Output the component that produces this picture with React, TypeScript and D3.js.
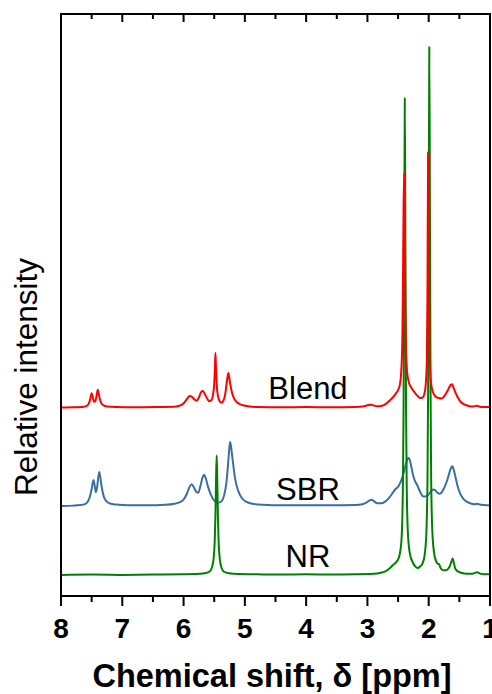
import React from "react";
import * as d3 from "d3";

// ---- data ----
const tickValues = [8, 7, 6, 5, 4, 3, 2, 1];
const minorTickValues = [7.5, 6.5, 5.5, 4.5, 3.5, 2.5, 1.5];
const seriesNames = ["NR", "SBR", "Blend"];
const seriesOffsets = [0, 13.07, 31.7];

const nrSpectrum: [number, number][] = [
  [8.0, 0], [7.5, 0.05], [7.0, 0], [6.5, 0.05], [6.0, 0.1], [5.8, 0.15], [5.66, 0.3], [5.58, 0.6], [5.54, 1.3],
  [5.51, 3.1], [5.49, 7], [5.48, 11.3], [5.47, 18], [5.46, 22.6], [5.45, 18], [5.44, 11.3], [5.43, 7], [5.41, 3.1],
  [5.38, 1.3], [5.34, 0.6], [5.26, 0.3], [5.1, 0.15], [4.8, 0.1], [4.4, 0.05], [4.0, 0.1], [3.6, 0.05], [3.2, 0.1],
  [2.9, 0.2], [2.78, 0.4], [2.7, 0.7], [2.64, 1.2], [2.58, 1.9], [2.53, 2.4], [2.49, 3.2], [2.46, 4.8], [2.44, 7.5],
  [2.42, 18], [2.41, 32], [2.4, 62], [2.39, 90.3], [2.38, 62], [2.37, 32], [2.36, 18], [2.34, 8], [2.31, 4.2],
  [2.27, 2.6], [2.22, 1.6], [2.18, 1.3], [2.14, 1.6], [2.1, 2.2], [2.07, 3.5], [2.04, 7.5], [2.02, 18], [2.01, 35],
  [2.0, 68], [1.99, 100], [1.98, 68], [1.97, 35], [1.96, 18], [1.94, 8], [1.91, 4], [1.88, 2.6], [1.85, 2.1],
  [1.83, 2.0], [1.81, 1.4], [1.77, 0.9], [1.72, 0.9], [1.68, 1.2], [1.65, 1.8], [1.63, 2.5], [1.61, 3.1],
  [1.59, 2.3], [1.57, 1.3], [1.53, 0.7], [1.47, 0.4], [1.38, 0.2], [1.3, 0.2], [1.25, 0.35], [1.21, 0.5],
  [1.18, 0.35], [1.13, 0.15], [1.05, 0.1], [1.0, 0.1],
];

const sbrSpectrum: [number, number][] = [
  [8.0, 0], [7.8, 0.05], [7.68, 0.15], [7.6, 0.4], [7.56, 0.9], [7.53, 1.7], [7.5, 3.2], [7.47, 4.9], [7.45, 3.8],
  [7.43, 2.6], [7.41, 3.6], [7.39, 5.6], [7.375, 6.4], [7.36, 5.5], [7.33, 3.2], [7.3, 1.7], [7.26, 0.9], [7.2, 0.45],
  [7.1, 0.25], [6.9, 0.1], [6.6, 0.1], [6.3, 0.2], [6.15, 0.4], [6.06, 0.7], [6.0, 1.2], [5.95, 2.2], [5.91, 3.4],
  [5.87, 4.1], [5.83, 3.5], [5.79, 2.6], [5.76, 2.5], [5.72, 4.0], [5.69, 5.4], [5.665, 5.9], [5.64, 5.3],
  [5.6, 3.6], [5.55, 2.0], [5.5, 1.0], [5.44, 0.6], [5.38, 0.9], [5.34, 1.9], [5.3, 4.5], [5.27, 8.5], [5.25, 11.3],
  [5.24, 12.1], [5.23, 11.6], [5.2, 8.8], [5.16, 5.2], [5.11, 2.9], [5.05, 1.5], [4.98, 0.8], [4.88, 0.4],
  [4.7, 0.2], [4.4, 0.1], [4.0, 0.1], [3.6, 0.1], [3.2, 0.15], [3.08, 0.3], [3.02, 0.6], [2.97, 1.0], [2.93, 1.15],
  [2.89, 0.85], [2.84, 0.5], [2.77, 0.5], [2.7, 0.9], [2.64, 1.6], [2.58, 2.6], [2.54, 3.2], [2.5, 3.6], [2.46, 4.5],
  [2.42, 5.8], [2.38, 7.6], [2.35, 8.8], [2.33, 9.1], [2.31, 8.7], [2.28, 7.2], [2.25, 5.6], [2.22, 4.6],
  [2.19, 4.0], [2.16, 3.2], [2.12, 2.2], [2.09, 1.8], [2.05, 1.8], [2.0, 2.2], [1.96, 2.8], [1.92, 3.1],
  [1.89, 2.9], [1.85, 2.4], [1.82, 2.3], [1.78, 2.7], [1.74, 3.6], [1.7, 4.8], [1.66, 6.4], [1.63, 7.3],
  [1.615, 7.5], [1.6, 7.2], [1.57, 5.8], [1.53, 3.8], [1.49, 2.4], [1.44, 1.4], [1.38, 0.8], [1.3, 0.4],
  [1.25, 0.3], [1.21, 0.4], [1.17, 0.25], [1.1, 0.15], [1.0, 0.1],
];

const blendSpectrum: [number, number][] = [
  [8.0, 0], [7.8, 0.05], [7.65, 0.1], [7.58, 0.3], [7.55, 0.7], [7.525, 1.5], [7.5, 2.7], [7.48, 1.9], [7.46, 1.1],
  [7.44, 1.2], [7.42, 2.2], [7.4, 3.35], [7.38, 2.3], [7.35, 1.0], [7.31, 0.45], [7.25, 0.2], [7.1, 0.1],
  [6.8, 0.05], [6.4, 0.1], [6.15, 0.15], [6.05, 0.4], [5.99, 0.9], [5.94, 1.7], [5.9, 2.2], [5.86, 2.0],
  [5.82, 1.5], [5.79, 1.3], [5.75, 1.9], [5.72, 2.8], [5.69, 3.2], [5.66, 2.7], [5.62, 1.8], [5.58, 1.2],
  [5.54, 1.5], [5.52, 2.4], [5.5, 4.5], [5.49, 7], [5.48, 10.4], [5.47, 7], [5.46, 4.5], [5.44, 2.2], [5.41, 1.2],
  [5.38, 0.9], [5.35, 1.3], [5.32, 2.6], [5.3, 4.3], [5.28, 6.0], [5.27, 6.55], [5.26, 6.1], [5.24, 4.6],
  [5.21, 2.8], [5.17, 1.6], [5.12, 0.9], [5.05, 0.5], [4.95, 0.25], [4.8, 0.1], [4.4, 0.05], [4.0, 0.1],
  [3.6, 0.05], [3.2, 0.1], [3.05, 0.25], [2.98, 0.5], [2.94, 0.55], [2.9, 0.4], [2.84, 0.25], [2.76, 0.35],
  [2.7, 0.7], [2.64, 1.3], [2.58, 2.0], [2.54, 2.6], [2.5, 3.3], [2.47, 4.4], [2.45, 6.5], [2.43, 13], [2.42, 24],
  [2.41, 38], [2.4, 44.5], [2.39, 32], [2.38, 18], [2.37, 11], [2.35, 6.5], [2.32, 4.6], [2.28, 3.7], [2.24, 3.0],
  [2.19, 2.3], [2.14, 1.8], [2.1, 1.9], [2.07, 2.6], [2.05, 4.2], [2.03, 9], [2.02, 22], [2.01, 48.3], [2.0, 28],
  [1.99, 13], [1.98, 8], [1.96, 4.5], [1.93, 2.9], [1.89, 2.1], [1.84, 1.8], [1.79, 1.7], [1.75, 2.1], [1.71, 2.8],
  [1.67, 3.7], [1.64, 4.3], [1.62, 4.4], [1.6, 3.9], [1.57, 3.0], [1.53, 2.0], [1.48, 1.1], [1.42, 0.6],
  [1.35, 0.3], [1.28, 0.2], [1.23, 0.3], [1.21, 0.35], [1.18, 0.2], [1.1, 0.1], [1.0, 0.1],
];

const seriesData = [nrSpectrum, sbrSpectrum, blendSpectrum];
const seriesColors = ["#008000", "#3b6ea5", "#ff0000"];
const labelPpm = [3.97, 3.97, 3.97];
const labelLift = [1.55, 1.1, 1.65];

export default function App() {
  const W = 492, H = 694;
  const left = 61, right = 490, top = 14, bottom = 596;
  const x = d3.scaleLinear().domain([8, 1]).range([left, right]);
  const y = d3.scaleLinear().domain([-4, 106.25]).range([bottom, top]);
  const font = "Arial, 'Liberation Sans', sans-serif";

  const drawOrder = [1, 0, 2];

  return (
    <svg width={W} height={H} style={{ position: "absolute", left: 0, top: 0, background: "#fff" }}>
      <defs>
        <clipPath id="plotclip">
          <rect x={left} y={top} width={right - left} height={bottom - top} />
        </clipPath>
      </defs>
      <g clipPath="url(#plotclip)">
        {drawOrder.map((i) => {
          const off = seriesOffsets[i];
          const line = d3
            .line<[number, number]>()
            .x((d) => x(d[0]))
            .y((d) => y(d[1] + off))
            .curve(d3.curveMonotoneX);
          return (
            <path
              key={seriesNames[i]}
              d={line(seriesData[i].slice().reverse()) || ""}
              fill="none"
              stroke={seriesColors[i]}
              strokeWidth={2}
              strokeLinejoin="round"
            />
          );
        })}
      </g>
      {/* frame */}
      <rect x={left} y={top} width={right - left} height={bottom - top} fill="none" stroke="#000" strokeWidth={2} />
      {/* bottom ticks (outward) */}
      {tickValues.map((t) => (
        <line key={"bt" + t} x1={x(t)} x2={x(t)} y1={bottom} y2={bottom + 10} stroke="#000" strokeWidth={2} />
      ))}
      {minorTickValues.map((t) => (
        <line key={"bm" + t} x1={x(t)} x2={x(t)} y1={bottom} y2={bottom + 6} stroke="#000" strokeWidth={2} />
      ))}
      {/* top ticks (inward) */}
      {tickValues.map((t) => (
        <line key={"tt" + t} x1={x(t)} x2={x(t)} y1={top} y2={top + 8} stroke="#000" strokeWidth={2} />
      ))}
      {minorTickValues.map((t) => (
        <line key={"tm" + t} x1={x(t)} x2={x(t)} y1={top} y2={top + 5} stroke="#000" strokeWidth={2} />
      ))}
      {tickValues.map((t) => (
        <text
          key={"tl" + t}
          x={x(t)}
          y={638}
          textAnchor="middle"
          fontFamily={font}
          fontWeight="bold"
          fontSize={28}
          fill="#000"
        >
          {t}
        </text>
      ))}
      <text x={272} y={687} textAnchor="middle" fontFamily={font} fontWeight="bold" fontSize={32.5} fill="#000">
        Chemical shift, δ [ppm]
      </text>
      <text
        transform={`translate(37,377) rotate(-90)`}
        textAnchor="middle"
        fontFamily={font}
        fontSize={31.5}
        fill="#000"
      >
        Relative intensity
      </text>
      {seriesNames.map((n, i) => (
        <text
          key={"sl" + n}
          x={x(labelPpm[i])}
          y={y(seriesOffsets[i] + labelLift[i])}
          textAnchor="middle"
          fontFamily={font}
          fontSize={31}
          fill="#000"
        >
          {n}
        </text>
      ))}
    </svg>
  );
}
